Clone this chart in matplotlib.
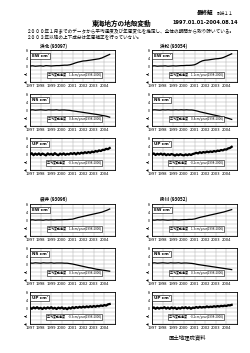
import numpy as np
import matplotlib.pyplot as plt

plt.rcParams['font.family'] = ['Noto Sans CJK JP', 'DejaVu Sans']

W, H = 250, 353

# 四半期ごとのサンプル時刻 (EW, NS) と 2か月ごとのサンプル時刻 (UD)
t_q = np.arange(1997.0, 2004.51, 0.25)
t_ud = 1997.0 + np.arange(46) / 6.0

years = list(range(1997, 2005))

names = ["浜北 (93097)", "浜松 (93054)", "袋井 (93096)", "掛川 (93052)"]

hamakita_ew = [0.0, 0.1, -0.1, 0.0, 0.1, -0.1, 0.2, 0.1, 0.0, 0.1, 0.2, 0.2,
               0.3, 0.4, 0.4, 0.6, 1.0, 1.5, 1.9, 2.2, 2.5, 2.6, 2.8, 3.0,
               3.2, 3.4, 3.6, 4.0, 4.6, 5.2, 5.8]
hamakita_ns = [0.0, 0.1, -0.1, 0.0, 0.1, 0.0, -0.1, 0.1, 0.0, 0.0, 0.1, -0.1,
               0.0, 0.0, -0.1, -0.2, -0.4, -0.6, -0.8, -1.0, -1.2, -1.4, -1.6, -1.8,
               -2.0, -2.2, -2.4, -2.7, -2.9, -3.2, -3.6]
hamakita_ud = [-0.3, 0.4, -0.6, 0.2, -0.4, 0.3,
               -0.5, 0.2, -0.2, -0.7, 0.3, -0.3,
               0.1, -0.5, 0.4, -0.2, -0.6, 0.2,
               -0.3, 0.3, -0.4, 0.1, -0.2, 0.4,
               0.0, 0.5, -0.2, 0.6, 0.1, 0.7,
               0.3, 0.9, 0.5, 1.0, 0.6, 1.2,
               0.9, 1.5, 1.2, 1.8, 1.5, 2.1,
               2.0, 2.6, 2.4, 3.0]

hamamatsu_ew = [0.0, 0.1, -0.1, 0.0, 0.0, 0.1, -0.1, 0.0, 0.1, 0.0, 0.1, 0.2,
                0.2, 0.3, 0.3, 0.4, 0.6, 1.2, 2.0, 2.6, 2.9, 3.0, 3.2, 3.4,
                3.6, 3.7, 3.9, 4.3, 4.9, 5.5, 6.1]
hamamatsu_ns = [0.0, 0.1, 0.0, -0.1, 0.1, 0.0, 0.1, 0.0, 0.0, 0.1, 0.0, 0.1,
                0.0, 0.1, 0.0, 0.0, -0.2, -0.5, -0.9, -1.2, -1.5, -1.8, -2.1, -2.4,
                -2.7, -3.0, -3.3, -3.6, -3.9, -4.3, -4.7]
hamamatsu_ud = [-0.2, 0.3, -0.5, 0.1, -0.3, 0.2,
                -0.4, 0.1, -0.6, -0.1, -0.5, 0.0,
                -0.3, -0.8, -0.2, -0.6, -0.1, -0.5,
                -0.7, -0.2, -0.6, -0.1, -0.5, 0.0,
                0.2, 0.6, 0.3, 0.9, 0.5, 1.0,
                0.7, 1.2, 0.9, 1.3, 1.0, 1.5,
                1.2, 1.7, 1.5, 2.0, 1.8, 2.3,
                2.2, 2.8, 3.0, 3.6]

fukuroi_ew = [0.0, 0.1, -0.1, 0.0, 0.0, -0.1, 0.1, 0.0, 0.1, 0.0, 0.1, 0.1,
              0.1, 0.2, 0.2, 0.3, 0.4, 0.8, 1.2, 1.5, 1.8, 2.1, 2.4, 2.7,
              3.0, 3.3, 3.6, 3.9, 4.4, 4.9, 5.5]
fukuroi_ns = [0.5, 0.4, 0.6, 0.5, 0.4, 0.6, 0.5, 0.5, 0.6, 0.4, 0.5, 0.5,
              0.5, 0.4, 0.4, 0.2, 0.0, -0.3, -0.6, -0.9, -1.2, -1.5, -1.8, -2.0,
              -2.3, -2.6, -2.8, -3.0, -3.2, -3.4, -3.6]
fukuroi_ud = [0.2, -0.4, 0.3, -0.2, 0.4, -0.3,
              0.1, -0.5, 0.2, -0.3, 0.3, -0.2,
              0.4, -0.3, 0.1, -0.5, 0.2, -0.2,
              0.3, -0.4, 0.0, -0.6, 0.2, -0.3,
              0.4, -0.1, 0.5, 0.1, 0.6, 0.2,
              0.7, 0.3, 0.8, 0.4, 0.9, 0.5,
              1.0, 0.6, 1.1, 0.8, 1.3, 1.0,
              1.5, 1.2, 1.8, 2.0]

kakegawa_ew = [0.0, -0.1, 0.1, 0.0, 0.1, 0.0, -0.1, 0.0, 0.1, 0.1, 0.0, 0.1,
               0.2, 0.2, 0.3, 0.3, 0.5, 0.9, 1.3, 1.6, 1.9, 2.2, 2.5, 2.8,
               3.1, 3.4, 3.7, 4.0, 4.4, 4.8, 5.2]
kakegawa_ns = [0.5, 0.6, 0.4, 0.5, 0.6, 0.5, 0.4, 0.6, 0.5, 0.5, 0.6, 0.4,
               0.5, 0.5, 0.4, 0.3, 0.1, -0.2, -0.4, -0.6, -0.8, -1.0, -1.2, -1.4,
               -1.6, -1.8, -2.0, -2.2, -2.4, -2.6, -2.8]
kakegawa_ud = [-0.2, 0.3, -0.4, 0.2, -0.3, 0.1,
               -0.1, 0.4, -0.3, 0.2, -0.4, 0.3,
               -0.2, 0.2, -0.5, 0.1, -0.3, 0.3,
               -0.1, 0.4, -0.2, 0.3, -0.4, 0.2,
               0.0, 0.5, 0.1, 0.6, 0.2, 0.5,
               0.3, 0.8, 0.4, 0.7, 0.5, 0.9,
               0.6, 1.0, 0.7, 1.1, 0.9, 1.2,
               1.0, 1.4, 1.3, 1.6]

ew_series = [hamakita_ew, hamamatsu_ew, fukuroi_ew, kakegawa_ew]
ns_series = [hamakita_ns, hamamatsu_ns, fukuroi_ns, kakegawa_ns]
ud_series = [hamakita_ud, hamamatsu_ud, fukuroi_ud, kakegawa_ud]

ew_vel = ["1.4cm/year(1998-2000)", "1.1cm/year(1998-2000)", "1.4cm/year(1998-2000)", "1.3cm/year(1998-2000)"]
ns_vel = ["0.4cm/year(1998-2000)", "0.4cm/year(1998-2000)", "0.3cm/year(1998-2000)", "0.3cm/year(1998-2000)"]
ud_vel = ["-0.3cm/year(1998-2000)", "-0.2cm/year(1998-2000)", "-0.3cm/year(1998-2000)", "-0.2cm/year(1998-2000)"]


def px_axes(fig, x0, top, w, h):
    return fig.add_axes([x0 / W, 1 - (top + h) / H, w / W, h / H])


def style_panel(ax, comp, vel):
    ax.set_xlim(1997, 2005)
    ax.set_ylim(-8, 8)
    ax.set_xticks(years)
    ax.set_xticklabels([str(y) for y in years], family='DejaVu Sans')
    ax.set_yticks([-8, -4, 0, 4, 8])
    ax.set_yticks([-6, -2, 2, 6], minor=True)
    ax.grid(which='both', color='#b0b0b0', lw=0.35)
    ax.set_axisbelow(True)
    ax.tick_params(which='both', length=0, labelsize=2.7, pad=1.2)
    for s in ax.spines.values():
        s.set_linewidth(0.6)
    ax.text(0.02, 0.87, comp, transform=ax.transAxes, fontsize=3.0,
            fontweight='bold', ha='left', va='top', family='DejaVu Sans',
            bbox=dict(boxstyle='square,pad=0.3', fc='white', ec='black', lw=0.4))
    ax.text(0.52, 0.22, "平均変動速度　" + vel, transform=ax.transAxes,
            fontsize=2.2, ha='center', va='center',
            bbox=dict(boxstyle='square,pad=0.3', fc='white', ec='black', lw=0.4))


fig = plt.figure(figsize=(W / 100, H / 100), dpi=100)

col_x = [30, 152]
block_top = [50, 204]
label_y = [46, 199]
label_x = [53, 174]

for i, name in enumerate(names):
    col = i % 2
    blk = i // 2
    x0 = col_x[col]
    top = block_top[blk]
    fig.text(label_x[col] / W, 1 - label_y[blk] / H, name, fontsize=3.3,
             fontweight='bold', ha='center', va='center')

    ax = px_axes(fig, x0, top, 85, 32)
    ax.plot(t_q, ew_series[i], color='black', lw=0.9)
    style_panel(ax, "EW cm'", ew_vel[i])

    ax = px_axes(fig, x0, top + 44, 85, 32)
    ax.plot(t_q, ns_series[i], color='black', lw=0.9)
    style_panel(ax, "NS cm'", ns_vel[i])

    ax = px_axes(fig, x0, top + 88, 85, 32)
    ax.plot(t_ud, ud_series[i], color='black', lw=1.6)
    style_panel(ax, "UP cm'", ud_vel[i])

# 見出し
fig.text(213 / W, 1 - 13 / H, "最終解", fontsize=4, fontweight='bold',
         ha='right', va='center')
fig.text(217 / W, 1 - 13 / H, "別紙１１", fontsize=3, ha='left', va='center')
fig.text(122 / W, 1 - 23 / H, "東海地方の地殻変動", fontsize=4.8,
         fontweight='bold', ha='center', va='center')
fig.text(238 / W, 1 - 23 / H, "1997.01.01-2004.08.14", fontsize=3.6,
         fontweight='bold', ha='right', va='center', family='DejaVu Sans')
fig.text(27 / W, 1 - 32 / H,
         "２０００年１月までのデータから平均速度及び年周変化を推定し、全体の期間から取り除いている。",
         fontsize=3.3, ha='left', va='center')
fig.text(27 / W, 1 - 37.5 / H,
         "２００３年以降の上下成分は年周補正を行っていない。",
         fontsize=3.3, ha='left', va='center')
fig.text(187 / W, 1 - 337 / H, "国土地理院資料", fontsize=3.9,
         ha='center', va='center')

fig.savefig("out.png", dpi=100)
